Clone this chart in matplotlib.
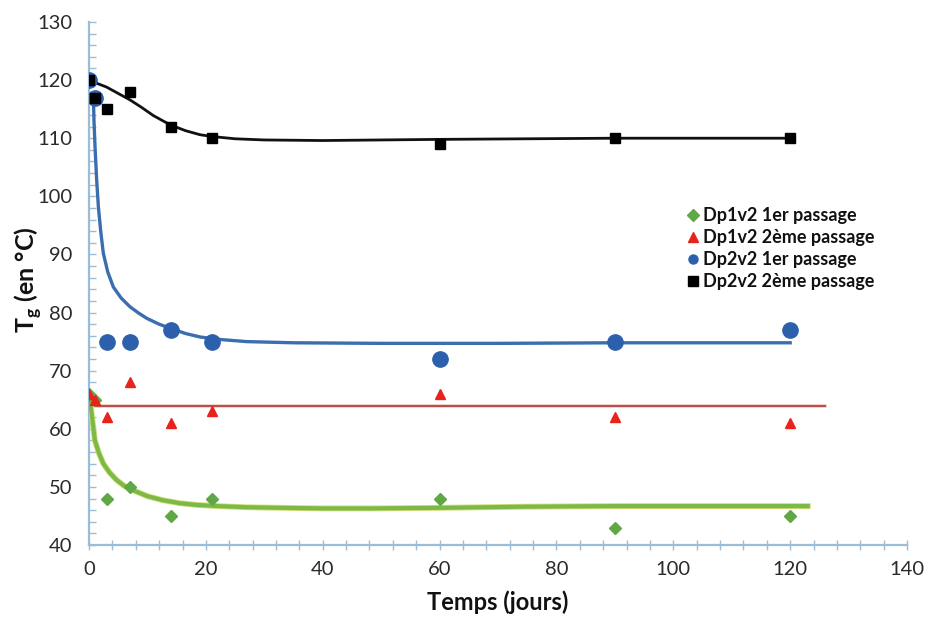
import matplotlib
matplotlib.use("Agg")
import matplotlib.pyplot as plt
from matplotlib.ticker import MultipleLocator
import matplotlib.patheffects as pe

plt.rcParams['font.family'] = ['Lato', 'DejaVu Sans']

# measured points
days = [0, 1, 3, 7, 14, 21, 60, 90, 120]
dp1v2_1er = [66, 65, 48, 50, 45, 48, 48, 43, 45]
dp1v2_2eme = [66, 65, 62, 68, 61, 63, 66, 62, 61]
dp2v2_1er = [120, 117, 75, 75, 77, 75, 72, 75, 77]
dp2v2_2eme = [120, 117, 115, 118, 112, 110, 109, 110, 110]

# trend curves
green_x = [0, 0.45, 1.0, 1.7, 2.45, 3.5, 4.7, 6, 7.6, 10, 12.7, 15.5, 18.4, 22, 27, 33, 40, 48, 60, 75, 90, 105, 123]
green_y = [66.1, 62.6, 58.0, 55.8, 54.0, 52.5, 51.2, 50.2, 49.4, 48.4, 47.7, 47.2, 46.9, 46.7, 46.5, 46.4, 46.3, 46.3, 46.4, 46.6, 46.7, 46.7, 46.7]

red_x = [1, 126]
red_y = [64, 64]

blue_x = [0.75, 0.85, 1.03, 1.3, 1.6, 2.0, 2.45, 3.2, 4.16, 5.5, 7.0, 8.5, 9.9, 12, 13.9, 16.5, 19, 22, 27, 35, 50, 70, 90, 105, 120]
blue_y = [117.1, 113, 108.5, 103, 98.2, 94, 90.2, 87, 84.4, 82.5, 81.0, 79.9, 79.0, 78.0, 77.3, 76.4, 75.8, 75.4, 75.0, 74.8, 74.7, 74.7, 74.8, 74.8, 74.8]

black_x = [0.7, 3, 5, 7, 9, 11, 13.9, 16.5, 19, 21, 25, 30, 40, 50, 60, 75, 90, 105, 120]
black_y = [119.7, 118.8, 117.7, 116.6, 115.3, 113.9, 112.3, 111.3, 110.6, 110.3, 109.9, 109.7, 109.6, 109.7, 109.8, 109.9, 110.0, 110.0, 110.0]

xticks = [0, 20, 40, 60, 80, 100, 120, 140]
yticks = [40, 50, 60, 70, 80, 90, 100, 110, 120, 130]

fig = plt.figure(figsize=(9.41, 6.19), dpi=100)
ax = fig.add_axes([0.0946, 0.1195, 0.8693, 0.845])

axis_col = '#9DBCD6'

# trend lines
ax.plot(green_x, green_y, color='#7DB946', lw=3.0, zorder=2,
        path_effects=[pe.Stroke(linewidth=4.2, foreground='#D2DE78'), pe.Normal()])
ax.plot(red_x, red_y, color='#B94C46', lw=1.4, zorder=2,
        path_effects=[pe.Stroke(linewidth=2.6, foreground='#F0C8C0'), pe.Normal()])
ax.plot(blue_x, blue_y, color='#3A6EAF', lw=2.4, zorder=2)
ax.plot(black_x, black_y, color='#111111', lw=2.0, zorder=2)

# markers
ax.plot(days, dp1v2_1er, linestyle='none', marker='D', ms=6.5, color='#5FA845',
        mec='#5FA845', zorder=3, label='Dp1v2 1er passage')
ax.plot(days, dp1v2_2eme, linestyle='none', marker='^', ms=7, color='#E8231C',
        mec='#E8231C', zorder=4, label='Dp1v2 2ème passage')
ax.plot(days, dp2v2_1er, linestyle='none', marker='o', ms=11, color='#2D60AC',
        mec='#2D60AC', zorder=3, label='Dp2v2 1er passage')
ax.plot(days, dp2v2_2eme, linestyle='none', marker='s', ms=7, color='#000000',
        mec='#000000', zorder=4, label='Dp2v2 2ème passage')

ax.set_xlim(0, 140)
ax.set_ylim(40, 130)
ax.set_xticks(xticks)
ax.set_yticks(yticks)
ax.xaxis.set_minor_locator(MultipleLocator(4))
ax.yaxis.set_minor_locator(MultipleLocator(2))

for s in ['top', 'right']:
    ax.spines[s].set_visible(False)
for s in ['left', 'bottom']:
    ax.spines[s].set_color(axis_col)
    ax.spines[s].set_linewidth(1.6)
ax.spines['left'].set_zorder(1)

ax.tick_params(axis='x', which='both', direction='inout', length=7, color=axis_col,
               width=1.0, labelsize=14.5, labelcolor='#2A2A2A', pad=8)
ax.tick_params(axis='y', which='both', direction='in', length=5, color=axis_col,
               width=1.0, labelsize=14.5, labelcolor='#2A2A2A', pad=12)

ax.set_xlabel('Temps (jours)', fontsize=17, fontweight='bold', color='#111111', labelpad=9)
fig.text(0.030, 0.548, r'T$_\mathregular{g}$ (en °C)', rotation=90, ha='center', va='center',
         fontsize=18, fontweight='bold', color='#111111')

leg = ax.legend(loc='upper left', bbox_to_anchor=(0.724, 0.66), frameon=False,
                fontsize=13, handlelength=0.5, handletextpad=0.3, labelspacing=0.28,
                borderaxespad=0)
for t in leg.get_texts():
    t.set_fontweight('bold')
    t.set_color('#111111')
for h in leg.legend_handles:
    h.set_markersize(6.5)

fig.savefig('out.png', dpi=100)
